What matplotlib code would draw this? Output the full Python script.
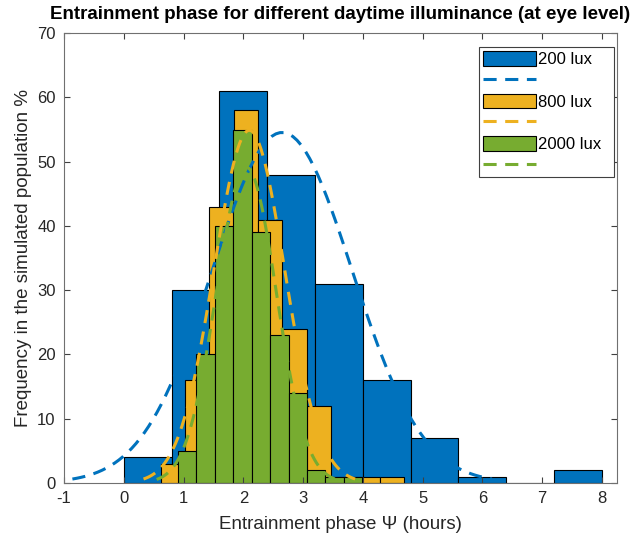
import numpy as np
import matplotlib
matplotlib.use("Agg")
import matplotlib.pyplot as plt

plt.rcParams['font.family'] = ['Liberation Sans', 'DejaVu Sans']
plt.rcParams['axes.unicode_minus'] = False

# histogram bins and counts
blue_edges = [0.0, 0.8, 1.6, 2.4, 3.2, 4.0, 4.8, 5.6, 6.4, 7.2, 8.0]
blue_counts = [4, 30, 61, 48, 31, 16, 7, 1, 0, 2]
yellow_edges = [0.62, 1.02, 1.43, 1.84, 2.24, 2.65, 3.06, 3.46, 3.87, 4.28, 4.68]
yellow_counts = [3, 16, 43, 58, 41, 24, 12, 1, 1, 1]
green_edges = [0.91, 1.21, 1.52, 1.83, 2.14, 2.45, 2.76, 3.06, 3.37, 3.68, 3.99]
green_counts = [5, 20, 40, 55, 39, 23, 14, 2, 1, 1]

# normal fits (mean, std) of each population
fits = {'200 lux': (2.65, 1.17), '800 lux': (2.10, 0.59), '2000 lux': (2.05, 0.50)}

colors = ['#0072BD', '#EDB120', '#77AC30']
labels = ['200 lux', '800 lux', '2000 lux']

fig = plt.figure(figsize=(6.34, 5.36), dpi=100)
ax = fig.add_axes([0.101, 0.099, 0.872, 0.839])

handles = []
for edges, counts, c, lab in zip([blue_edges, yellow_edges, green_edges],
                                 [blue_counts, yellow_counts, green_counts],
                                 colors, labels):
    edges = np.array(edges)
    widths = np.diff(edges)
    b = ax.bar(edges[:-1], counts, width=widths, align='edge', color=c,
               edgecolor='black', linewidth=0.8)
    mu, sd = fits[lab]
    n = sum(counts)
    bw = widths.mean()
    xs = np.linspace(mu - 3 * sd, mu + 3 * sd, 100)
    ys = n * bw * np.exp(-(xs - mu) ** 2 / (2 * sd ** 2)) / (sd * np.sqrt(2 * np.pi))
    ln, = ax.plot(xs, ys, color=c, linewidth=2.2, dashes=(4.3, 2.8))
    handles += [b, ln]

ax.set_xlim(-1, 8.25)
ax.set_ylim(0, 70)
ax.set_xticks(range(-1, 9))
ax.set_yticks(range(0, 71, 10))
ax.tick_params(direction='in', top=True, right=True, labelsize=12, length=4,
               color='#404040', labelcolor='#262626', pad=6)
for s in ax.spines.values():
    s.set_color('#707070')
    s.set_linewidth(0.8)

ax.set_title('Entrainment phase for different daytime illuminance (at eye level)',
             fontsize=13.5, fontweight='bold', pad=10)
ax.set_xlabel('Entrainment phase \u03a8 (hours)', fontsize=13.5, labelpad=7,
              color='#262626')
ax.set_ylabel('Frequency in the simulated population %', fontsize=13.5, labelpad=4,
              color='#262626')

leg_labels = [l + '  ' for l in labels]
leg = ax.legend(handles, [leg_labels[0], ' ', leg_labels[1], ' ', leg_labels[2], ' '],
                loc='upper right', bbox_to_anchor=(0.995, 0.969), borderaxespad=0,
                fontsize=12, handlelength=3.2, handleheight=1.0,
                handletextpad=0.1, labelspacing=0.31, borderpad=0.22,
                fancybox=False, edgecolor='#404040', framealpha=1)
leg.get_frame().set_linewidth(0.8)

fig.savefig('out.png', dpi=100)
